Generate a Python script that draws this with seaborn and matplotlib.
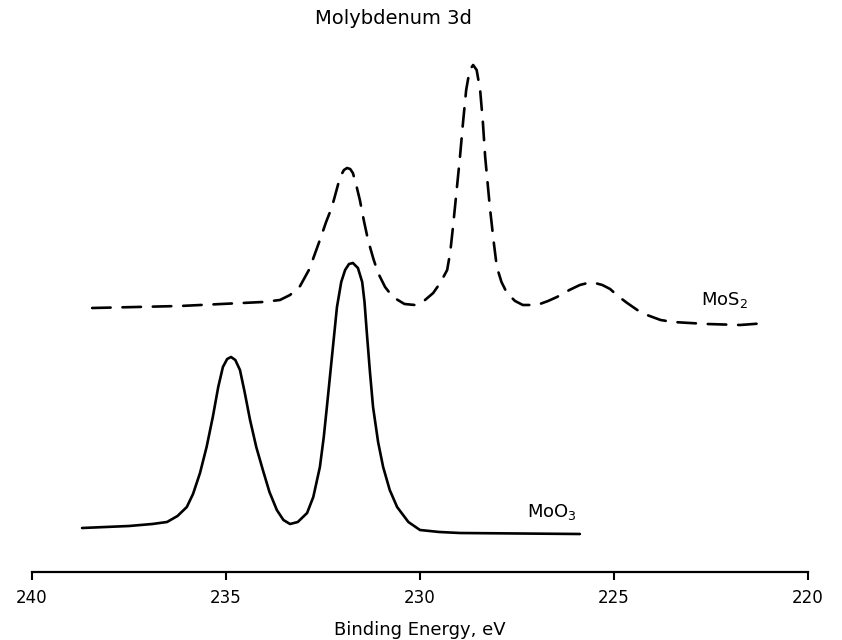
import matplotlib
matplotlib.use("Agg")
import matplotlib.pyplot as plt
import seaborn as sns
import pandas as pd

# Binding energy (eV) and relative intensity
moo3_ev = [238.71, 237.50, 236.90, 236.52, 236.25, 236.01, 235.85, 235.67, 235.50, 235.34,
           235.20, 235.08, 234.97, 234.87, 234.76, 234.64, 234.52, 234.38, 234.22, 234.05,
           233.88, 233.69, 233.52, 233.35, 233.15, 232.91, 232.75, 232.58, 232.48, 232.40,
           232.27, 232.14, 232.03, 231.93, 231.83, 231.73, 231.60, 231.49, 231.43, 231.37,
           231.29, 231.21, 231.08, 230.95, 230.78, 230.59, 230.30, 230.00, 229.50, 228.97,
           225.88]
moo3_int = [44, 46, 48, 50, 56, 65, 78, 99, 125, 155,
            185, 205, 213, 215, 212, 202, 180, 152, 125, 102,
            80, 62, 52, 48, 50, 59, 75, 105, 135, 165,
            215, 265, 290, 302, 308, 309, 304, 290, 270, 239,
            200, 165, 130, 105, 82, 65, 50, 42, 40, 39,
            38]

mos2_ev = [238.45, 236.19, 234.05, 233.61, 233.35, 233.09, 232.85, 232.58, 232.42, 232.27,
           232.15, 232.06, 231.96, 231.88, 231.80, 231.73, 231.65, 231.55, 231.45, 231.34,
           231.20, 231.08, 230.90, 230.70, 230.40, 230.13, 229.90, 229.66, 229.48, 229.30,
           229.22, 229.15, 229.06, 228.97, 228.89, 228.81, 228.72, 228.63, 228.54, 228.45,
           228.38, 228.32, 228.26, 228.20, 228.10, 228.02, 227.90, 227.76, 227.55, 227.35,
           227.10, 226.91, 226.70, 226.47, 226.15, 225.88, 225.68, 225.49, 225.30, 225.10,
           224.90, 224.66, 224.40, 224.15, 223.80, 223.48, 222.60, 221.75, 221.06]
mos2_int = [264, 266, 270, 272, 277, 286, 303, 332, 350, 365,
            382, 395, 402, 404, 403, 399, 388, 372, 352, 332,
            313, 299, 285, 275, 268, 267, 271, 279, 289, 302,
            320, 345, 380, 415, 450, 482, 502, 507, 502, 482,
            450, 415, 390, 365, 330, 305, 290, 279, 271, 267,
            267, 268, 271, 275, 282, 287, 289, 289, 287, 283,
            276, 269, 262, 257, 252, 250, 248, 247, 249]

x_ticks = [240, 235, 230, 225, 220]
title = "Molybdenum 3d"
x_label = "Binding Energy, eV"

sns.set_theme(style="white")
plt.rcParams["font.family"] = ["DejaVu Sans"]
plt.rcParams["text.color"] = "black"
plt.rcParams["axes.labelcolor"] = "black"
plt.rcParams["xtick.color"] = "black"

fig = plt.figure(figsize=(8.42, 6.4), dpi=100)
W, H = 842, 640
x_left, x_right = 32, 808
y_bottom, y_top = 572, 40
ax = fig.add_axes([x_left / W, 1 - y_bottom / H, (x_right - x_left) / W, (y_bottom - y_top) / H])

df_o = pd.DataFrame({"ev": moo3_ev, "intensity": moo3_int})
df_s = pd.DataFrame({"ev": mos2_ev, "intensity": mos2_int})

sns.lineplot(data=df_o, x="ev", y="intensity", ax=ax, color="black", lw=1.9,
             sort=False, estimator=None, solid_joinstyle="round", solid_capstyle="round")
sns.lineplot(data=df_s, x="ev", y="intensity", ax=ax, color="black", lw=1.9,
             sort=False, estimator=None, linestyle=(0, (7, 4.5)),
             dash_joinstyle="round", dash_capstyle="round")

ax.set_xlim(240, 220)
ax.set_ylim(0, y_bottom - y_top)
ax.set_xticks(x_ticks)
ax.set_xticklabels([str(t) for t in x_ticks], fontsize=12, color="black")
ax.set_yticks([])
ax.set_xlabel(x_label, fontsize=13, labelpad=10, color="black")
ax.set_ylabel("")
for s in ["top", "left", "right"]:
    ax.spines[s].set_visible(False)
ax.spines["bottom"].set_linewidth(1.6)
ax.spines["bottom"].set_color("black")
ax.tick_params(axis="x", direction="out", length=6, width=1.5, color="black", pad=6,
               bottom=True, labelcolor="black")
ax.set_facecolor("white")

ax.text(227.25, 60, "MoO$_3$", fontsize=13, va="center", ha="left", color="black")
ax.text(222.75, 272, "MoS$_2$", fontsize=13, va="center", ha="left", color="black")

fig.text(393 / W, 1 - 19 / H, title, fontsize=14, ha="center", va="center", color="black")

fig.savefig("out.png", dpi=100, facecolor="white")
